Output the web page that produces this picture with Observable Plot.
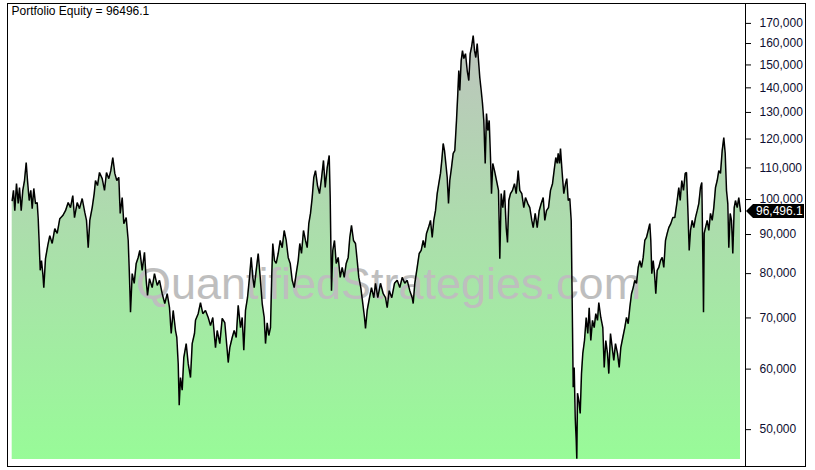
<!DOCTYPE html>
<html>
<head>
<meta charset="utf-8">
<script src="https://cdn.jsdelivr.net/npm/d3@7"></script>
<script src="https://cdn.jsdelivr.net/npm/@observablehq/plot@0.6"></script>
<style>
  html, body { margin: 0; padding: 0; background: #fff; }
  #chart { width: 815px; height: 470px; }
</style>
</head>
<body>
<div id="chart"></div>
<script>
// ---- data ----
const titleText = "Portfolio Equity = 96496.1";
const watermark = "QuantifiedStrategies.com";
const lastValueLabel = "96,496.1";
const yTicks = [50000, 60000, 70000, 80000, 90000, 100000, 110000, 120000, 130000, 140000, 150000, 160000, 170000];
const yDomain = [45700, 180500];

// trading-day index
const days = [
0,13,26,43,60,73,90,106,123,140,
153,170,186,200,216,233,250,260,270,280,
293,306,316,333,356,376,400,426,450,476,
506,533,560,583,606,623,650,673,700,726,
743,760,776,800,820,833,853,873,900,923,
943,966,986,1006,1026,1046,1066,1080,1100,1116,
1140,1160,1173,1183,1200,1220,1240,1260,1276,1300,
1323,1340,1353,1373,1400,1423,1450,1473,1500,1526,
1550,1573,1590,1610,1633,1646,1660,1670,1683,1700,
1716,1740,1760,1783,1800,1823,1833,1860,1883,1906,
1933,1960,1983,2006,2033,2050,2076,2100,2126,2150,
2160,2176,2200,2220,2240,2260,2283,2300,2316,2333,
2353,2373,2390,2406,2420,2440,2460,2480,2500,2520,
2533,2550,2566,2583,2596,2606,2623,2640,2660,2680,
2700,2720,2740,2760,2780,2800,2820,2840,2860,2876,
2893,2913,2933,2950,2966,2983,3000,3016,3033,3053,
3073,3093,3113,3130,3150,3170,3180,3186,3193,3206,
3223,3240,3260,3280,3300,3320,3340,3360,3376,3393,
3413,3433,3450,3466,3486,3506,3523,3533,3550,3573,
3593,3616,3633,3656,3683,3710,3733,3750,3770,3796,
3823,3850,3876,3900,3926,3950,3976,4000,4010,4026,
4050,4070,4090,4110,4126,4143,4163,4183,4200,4216,
4233,4250,4266,4283,4296,4310,4323,4336,4350,4363,
4376,4393,4410,4426,4443,4456,4466,4476,4490,4503,
4516,4533,4550,4566,4580,4593,4610,4623,4636,4650,
4663,4676,4690,4703,4716,4730,4743,4756,4770,4783,
4793,4806,4823,4843,4863,4876,4890,4906,4923,4940,
4953,4966,4983,5003,5023,5040,5060,5076,5096,5116,
5133,5156,5176,5196,5210,5230,5250,5270,5290,5310,
5326,5343,5363,5383,5403,5423,5436,5450,5460,5473,
5483,5500,5516,5533,5546,5560,5576,5590,5596,5603,
5610,5620,5630,5640,5646,5653,5666,5680,5693,5706,
5723,5740,5756,5770,5786,5803,5820,5836,5853,5866,
5886,5906,5920,5936,5953,5966,5983,6000,6016,6033,
6053,6070,6086,6106,6126,6143,6160,6176,6193,6210,
6226,6243,6260,6276,6293,6310,6326,6343,6360,6376,
6386,6396,6410,6423,6436,6450,6466,6483,6500,6516,
6533,6550,6566,6586,6606,6626,6646,6666,6680,6696,
6713,6730,6743,6756,6770,6783,6800,6816,6833,6850,
6866,6883,6896,6906,6913,6920,6933,6950,6966,6983,
7000,7016,7033,7050,7066,7083,7100,7116,7130,7143,
7156,7166,7180,7193,7206,7220,7233,7250,7266,7283
];

// portfolio equity
const equity = [
99700,102800,96700,104900,98800,103700,96700,102800,105900,111800,
105900,99700,102800,97300,103400,98800,99100,94400,87600,80800,
83200,80000,76700,83700,87100,89700,87600,91600,90300,94400,
95300,96700,99100,97600,101200,94700,99100,97300,100300,96200,
93900,86500,93900,97600,101800,105900,104300,108500,106500,102800,
108500,106500,109100,113500,108200,105900,106900,95900,100600,93000,
94700,88400,79100,71200,80000,77700,82500,84000,85800,80800,
85300,78400,74900,78800,76700,80000,77200,78400,75300,73100,
75300,72200,66800,71600,67400,66000,61000,53800,58500,56300,
62100,64800,61000,58500,64800,66800,69500,70900,73300,70900,
71600,70100,68400,70100,64000,67400,64800,69900,69000,63500,
61200,64000,66000,67400,66000,72700,68000,70100,63500,71600,
74400,79100,84000,79100,76700,80800,85000,79100,73100,70100,
64800,69000,66400,68000,80000,87600,83200,82500,85000,88400,
86500,91100,88400,84000,82500,78400,76700,80000,83200,87600,
85000,91100,88400,86500,93000,95900,100600,106900,109100,104300,
101800,106500,112500,103700,110100,114200,100600,88400,76000,85800,
88400,82500,84000,79100,81500,79100,82500,84000,89200,92500,
88400,87600,83200,79100,76700,73100,70100,67800,71600,74400,
76700,74400,77700,74400,77700,75300,74400,72200,76000,74400,
77700,78400,76700,79100,77700,78400,76000,74400,73100,77700,
81500,85000,85800,88400,86500,90300,91900,93900,89200,93900,
96700,101800,104900,108200,112500,118400,115900,111500,106900,98800,
105900,110100,114900,115900,126900,137600,147500,138900,152000,156600,
152900,155200,147500,143100,155200,158100,163900,156600,153400,160000,
152000,144400,138900,133500,126900,111500,129600,123100,126900,113500,
101800,111500,109100,105900,102800,83700,101800,97600,102800,91900,
87900,99700,101800,102800,104900,101800,109100,102800,101800,97600,
100600,98800,97600,93900,91900,95900,91900,96700,98800,100600,
93900,96700,97600,102800,104900,110100,113500,111500,114900,111500,
116600,108200,101800,104900,106500,99700,100300,93900,80800,68000,
56800,60300,51900,48400,45800,55800,54600,52500,59200,62900,
65400,70100,66800,72200,65400,69500,68000,70900,69500,73300,
70100,68000,60300,65400,62900,59200,66800,64000,61600,64800,
62900,60300,64000,66000,68000,70100,68800,72200,75300,76700,
78400,77700,81500,83200,81500,84000,88400,89200,91100,93000,
88400,80000,83200,80000,75300,80800,81500,83200,84000,81500,
88400,90300,91900,93000,94700,94700,98800,103700,99700,105900,
102800,108200,108500,97600,85800,91100,93900,91900,94700,96700,
98800,103700,105300,85000,71200,90300,91900,93900,91100,95900,
93900,97600,103700,105900,109100,108200,115900,120500,114900,102800,
98800,86500,95900,93900,85000,97600,99700,97600,100600,96496.1
];

// ---- build table ----
const rows = days.map((d, i) => ({day: d, value: equity[i]}));
const lastValue = equity[equity.length - 1];

const gradientDefs = () => {
  const defs = d3.create("svg:defs");
  const g = defs.append("linearGradient")
    .attr("id", "eqGrad")
    .attr("gradientUnits", "userSpaceOnUse")
    .attr("x1", 0).attr("x2", 0).attr("y1", 3).attr("y2", 459);
  g.append("stop").attr("offset", "0%").attr("stop-color", "#c0c0c0");
  g.append("stop").attr("offset", "100%").attr("stop-color", "#98fb98");
  return defs.node();
};

const chart = Plot.plot({
  width: 815,
  height: 470,
  marginLeft: 7,
  marginRight: 70,
  marginTop: 3,
  marginBottom: 4,
  x: {domain: [days[0], days[days.length - 1]], range: [11.7, 740], axis: null},
  y: {type: "log", domain: yDomain, range: [459, 3], axis: null},
  style: {fontFamily: "'Liberation Sans', Arial, sans-serif", background: "#fff", overflow: "visible"},
  marks: [
    gradientDefs,
    Plot.areaY(rows, {x: "day", y1: yDomain[0], y2: "value", fill: "url(#eqGrad)"}),
    Plot.text([watermark], {frameAnchor: "middle", dx: 12, dy: 50, fontSize: 45, fill: "#bebebe", fontFamily: "'Liberation Sans', Arial, sans-serif"}),
    Plot.line(rows, {x: "day", y: "value", stroke: "#000", strokeWidth: 1.5, strokeLinejoin: "miter"}),
    Plot.axisY(yTicks, {anchor: "right", tickSize: 5, tickPadding: 9, tickFormat: d3.format(","), fontSize: 12, fill: "#0d0d30", label: null}),
    Plot.frame({insetRight: -60, stroke: "#000"}),
    Plot.frame({anchor: "right", stroke: "#000"}),
    Plot.text([titleText], {frameAnchor: "top-left", dx: 4, dy: 3, textAnchor: "start", lineAnchor: "top", fontSize: 12, fill: "#000"})
  ]
});

// last-value marker on the right axis, positioned with Plot's y scale
const ys = chart.scale("y");
const yPix = ys.apply ? ys.apply(lastValue) : d3.scaleLog(ys.domain, ys.range)(lastValue);
const tag = d3.select(chart).append("g");
tag.append("path")
  .attr("d", `M746,${yPix} L753,${yPix - 7} L804,${yPix - 7} L804,${yPix + 7} L753,${yPix + 7} Z`)
  .attr("fill", "#000");
tag.append("text")
  .attr("x", 756).attr("y", yPix).attr("dy", "0.35em")
  .attr("text-anchor", "start")
  .attr("fill", "#fff").attr("font-size", 12)
  .attr("font-family", "'Liberation Sans', Arial, sans-serif")
  .text(lastValueLabel);

document.getElementById("chart").appendChild(chart);
</script>
</body>
</html>
